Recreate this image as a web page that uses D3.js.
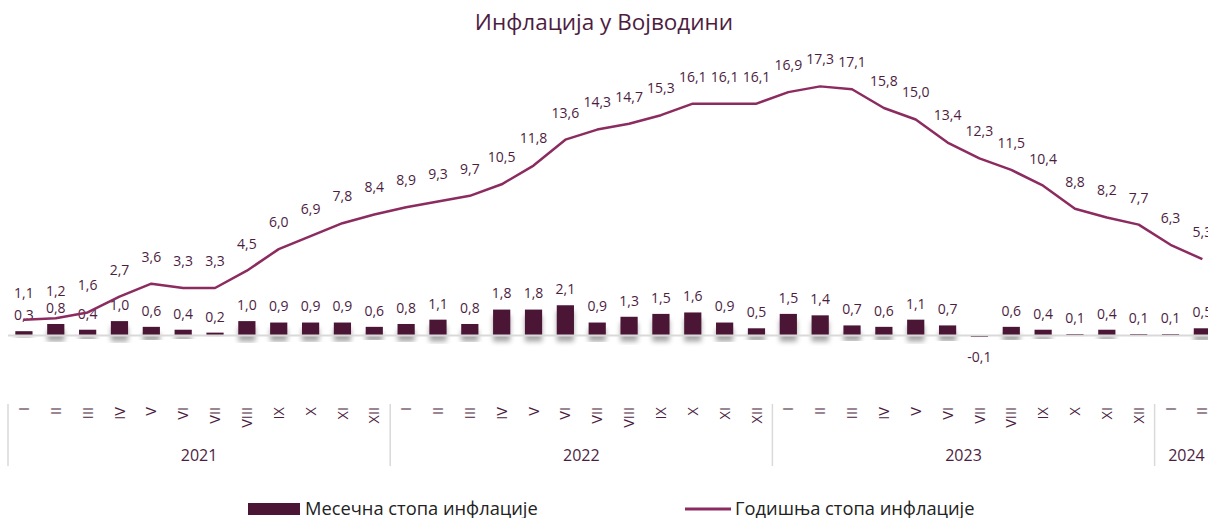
<!DOCTYPE html>
<html>
<head>
<meta charset="utf-8">
<script src="https://cdn.jsdelivr.net/npm/d3@7"></script>
<style>
  body { margin: 0; background: #fff; }
  svg { display: block; font-family: "Open Sans", sans-serif; }
</style>
</head>
<body>
<div id="chart"></div>
<script>
const months = ["I","II","III","IV","V","VI","VII","VIII","IX","X","XI","XII",
                "I","II","III","IV","V","VI","VII","VIII","IX","X","XI","XII",
                "I","II","III","IV","V","VI","VII","VIII","IX","X","XI","XII",
                "I","II"];
const years = [
  { label: "2021", count: 12 },
  { label: "2022", count: 12 },
  { label: "2023", count: 12 },
  { label: "2024", count: 2 }
];
const monthly = [0.3, 0.8, 0.4, 1.0, 0.6, 0.4, 0.2, 1.0, 0.9, 0.9, 0.9, 0.6,
                 0.8, 1.1, 0.8, 1.8, 1.8, 2.1, 0.9, 1.3, 1.5, 1.6, 0.9, 0.5,
                 1.5, 1.4, 0.7, 0.6, 1.1, 0.7, -0.1, 0.6, 0.4, 0.1, 0.4, 0.1,
                 0.1, 0.5];
const annual = [1.1, 1.2, 1.6, 2.7, 3.6, 3.3, 3.3, 4.5, 6.0, 6.9, 7.8, 8.4,
                8.9, 9.3, 9.7, 10.5, 11.8, 13.6, 14.3, 14.7, 15.3, 16.1, 16.1, 16.1,
                16.9, 17.3, 17.1, 15.8, 15.0, 13.4, 12.3, 11.5, 10.4, 8.8, 8.2, 7.7,
                6.3, 5.3];

const width = 1208, height = 518;
const colors = { bar: "#4b1535", line: "#8c2b5f", text: "#4d1d3f", grid: "#d9d9d9" };
const fmt = v => d3.format(".1f")(v).replace(".", ",").replace("−", "-");

const svg = d3.select("#chart").append("svg")
  .attr("width", width)
  .attr("height", height);

// soft shadow under the bars
const defs = svg.append("defs");
defs.append("filter")
  .attr("id", "shadow")
  .attr("x", "-50%").attr("y", "-50%").attr("width", "200%").attr("height", "200%")
  .append("feDropShadow")
  .attr("dx", 0).attr("dy", 6)
  .attr("stdDeviation", 2.5)
  .attr("flood-color", "#000")
  .attr("flood-opacity", 0.35);

const step = 31.85;
const x = d3.scaleBand()
  .domain(d3.range(months.length))
  .range([8, 8 + step * months.length])
  .paddingInner(0.46)
  .paddingOuter(0.23);

const y = d3.scaleLinear()
  .domain([-4, 20])
  .range([393.1, 47.5]);

const cx = i => x(i) + x.bandwidth() / 2;

// title
svg.append("text")
  .attr("x", width / 2)
  .attr("y", 22)
  .attr("dy", "0.35em")
  .attr("text-anchor", "middle")
  .attr("fill", colors.text)
  .style("font-size", "22.5px")
  .text("Инфлација у Војводини");

// monthly bars
svg.append("g")
  .selectAll("rect")
  .data(monthly)
  .join("rect")
  .attr("x", (d, i) => x(i))
  .attr("width", x.bandwidth())
  .attr("y", d => y(Math.max(0, d)))
  .attr("height", d => Math.max(1, Math.abs(y(d) - y(0))))
  .attr("fill", colors.bar)
  .attr("filter", "url(#shadow)");

// zero line
svg.append("line")
  .attr("x1", 8).attr("x2", width)
  .attr("y1", y(0)).attr("y2", y(0))
  .attr("stroke", colors.grid)
  .attr("stroke-width", 2);

// monthly labels
svg.append("g")
  .selectAll("text")
  .data(monthly)
  .join("text")
  .attr("x", (d, i) => cx(i))
  .attr("y", d => d >= 0 ? y(d) - 16 : y(d) + 20)
  .attr("dy", "0.35em")
  .attr("text-anchor", "middle")
  .attr("fill", colors.text)
  .style("font-size", "14px")
  .text(fmt);

// annual line
const line = d3.line()
  .x((d, i) => cx(i))
  .y(d => y(d));

svg.append("path")
  .datum(annual)
  .attr("fill", "none")
  .attr("stroke", colors.line)
  .attr("stroke-width", 2.5)
  .attr("stroke-linejoin", "round")
  .attr("d", line);

svg.append("g")
  .selectAll("text")
  .data(annual)
  .join("text")
  .attr("x", (d, i) => cx(i))
  .attr("y", d => y(d) - 27)
  .attr("dy", "0.35em")
  .attr("text-anchor", "middle")
  .attr("fill", colors.text)
  .style("font-size", "14px")
  .text(fmt);

// category axis: months rotated, years below
const axis = svg.append("g");
axis.selectAll("text.month")
  .data(months)
  .join("text")
  .attr("class", "month")
  .attr("transform", (d, i) => `translate(${cx(i)},407) rotate(-90)`)
  .attr("dy", "0.35em")
  .attr("text-anchor", "end")
  .attr("fill", colors.text)
  .style("font-size", "14.5px")
  .text(d => d);

let start = 0;
const bounds = [0];
years.forEach(yr => {
  const x0 = x(start) - x.step() * x.paddingOuter();
  const x1 = x0 + x.step() * yr.count;
  axis.append("text")
    .attr("x", (x0 + x1) / 2)
    .attr("y", 455)
    .attr("dy", "0.35em")
    .attr("text-anchor", "middle")
    .attr("fill", colors.text)
    .style("font-size", "16px")
    .text(yr.label);
  start += yr.count;
  bounds.push(start);
});

axis.selectAll("line.sep")
  .data(bounds.slice(0, -1))
  .join("line")
  .attr("class", "sep")
  .attr("x1", i => 8 + x.step() * i)
  .attr("x2", i => 8 + x.step() * i)
  .attr("y1", 404)
  .attr("y2", 466)
  .attr("stroke", colors.grid)
  .attr("stroke-width", 1.5);

// legend
const legend = svg.append("g");
legend.append("rect")
  .attr("x", 248).attr("y", 503)
  .attr("width", 52).attr("height", 12)
  .attr("fill", colors.bar);
legend.append("text")
  .attr("x", 305).attr("y", 509)
  .attr("dy", "0.35em")
  .attr("fill", "#222")
  .style("font-size", "18.3px")
  .text("Месечна стопа инфлације");
legend.append("line")
  .attr("x1", 685).attr("x2", 731)
  .attr("y1", 509).attr("y2", 509)
  .attr("stroke", colors.line)
  .attr("stroke-width", 3);
legend.append("text")
  .attr("x", 735).attr("y", 509)
  .attr("dy", "0.35em")
  .attr("fill", "#222")
  .style("font-size", "18.3px")
  .text("Годишња стопа инфлације");
</script>
</body>
</html>
